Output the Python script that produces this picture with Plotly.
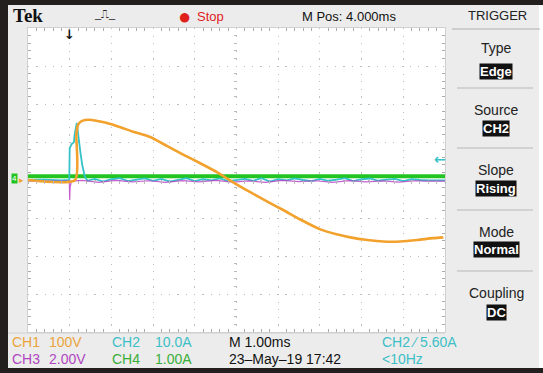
import plotly.graph_objects as go

W, H = 543, 373

# ---------------- data (time in ms, relative to trigger) ----------------
ch1_t = [-1.0, 0.13, 0.16, 0.20, 0.27, 0.37, 0.54, 0.73, 1.00, 1.26, 1.52, 1.93, 2.34, 2.72, 3.13, 3.54, 3.92,
         4.33, 4.74, 5.12, 5.53, 6.01, 6.40, 6.73, 7.14, 7.52, 7.93, 8.34, 8.72, 8.96]
ch1_v = [0, 0, 120, 145, 154, 158, 158, 154, 147, 137, 127, 113, 89, 67, 44, 20, -6,
         -32, -57, -79, -104, -130, -143, -151, -158, -162, -162, -158, -153, -151]   # volts

ch2_t = [-1.0, -0.6, -0.2, -0.01, 0.0, 0.05, 0.10, 0.12, 0.17, 0.19, 0.22, 0.26, 0.30, 0.36, 0.42,
         0.6, 0.8, 1.0, 1.2, 1.4, 1.6, 1.8, 2.0, 2.2, 2.4, 2.6, 2.8, 3.0, 3.2, 3.4, 3.6, 3.8, 4.0,
         4.2, 4.4, 4.6, 4.8, 5.0, 5.2, 5.4, 5.6, 5.8, 6.0, 6.2, 6.4, 6.6, 6.8, 7.0, 7.2, 7.4, 7.6,
         7.8, 8.0, 8.2, 8.4, 8.6, 9.0]
ch2_a = [0.0, 0.1, -0.1, 0.0, 8.4, 9.5, 9.9, 12.0, 15.0, 13.0, 11.0, 7.0, 4.0, 1.0, -0.2,
         0.3, -0.4, 0.2, 0.5, -0.3, 0.1, 0.4, -0.2, 0.3, -0.4, 0.0, 0.5, -0.3, 0.2, -0.1, 0.4,
         -0.3, 0.1, 0.3, -0.2, 0.5, -0.4, 0.2, -0.1, 0.4, 0.0, -0.3, 0.3, -0.2, 0.1, 0.5, -0.3,
         0.2, 0.4, -0.2, 0.1, 0.3, -0.3, 0.2, 0.0, -0.1, -0.1]          # amps

ch3_t = [-1.0, -0.01, 0.0, 0.01, 0.04, 0.3, 0.7, 1.1, 1.5, 1.9, 2.3, 2.7, 3.1, 3.5, 3.9, 4.3, 4.7,
         5.1, 5.5, 5.9, 6.3, 6.7, 7.1, 7.5, 7.9, 8.3, 8.5, 9.0]
ch3_v = [-0.06, -0.06, -1.05, -0.4, -0.06, -0.02, -0.12, -0.02, -0.10, -0.04, -0.12, -0.03, -0.10,
         -0.02, -0.11, -0.05, -0.12, -0.02, -0.09, -0.04, -0.12, -0.03, -0.10, -0.05, -0.11, -0.04,
         -0.06, -0.06]  # volts

ch4_t = [-1.0, 9.0]
ch4_a = [0.1, 0.1]     # amps

scale = {"ch1": 100.0, "ch2": 10.0, "ch3": 2.0, "ch4": 1.0}   # units / division

C_ORANGE = "#f2a22c"
C_CYAN = "#34c2c8"
C_MAG = "#b83cc4"
C_GREEN = "#22c422"
C_TXT_OR = "#eba43c"
C_TXT_CY = "#3cbfc6"
C_TXT_MG = "#b146c2"
C_TXT_GR = "#3aae3a"

fig = go.Figure()
fig.add_trace(go.Scatter(x=ch4_t, y=[a / scale["ch4"] for a in ch4_a], mode="lines",
                         line=dict(color=C_GREEN, width=4)))
fig.add_trace(go.Scatter(x=ch2_t, y=[a / scale["ch2"] for a in ch2_a], mode="lines",
                         line=dict(color=C_CYAN, width=1.8)))
fig.add_trace(go.Scatter(x=ch3_t, y=[v / scale["ch3"] for v in ch3_v], mode="lines",
                         line=dict(color=C_MAG, width=1.2), opacity=0.8))
fig.add_trace(go.Scatter(x=ch1_t, y=[v / scale["ch1"] for v in ch1_v], mode="lines",
                         line=dict(color=C_ORANGE, width=2.6, shape="spline", smoothing=0.6)))
# helper trace for the centre-cross axes
fig.add_trace(go.Scatter(x=[None], y=[None], xaxis="x2", yaxis="y2", showlegend=False))

X0, X1 = 28, 445
Y0, Y1 = 28, 332
px = lambda x: x / W
py = lambda y: 1 - y / H

grid = "#bdbdbd"
fig.update_layout(
    width=W, height=H, margin=dict(l=0, r=0, t=0, b=0),
    paper_bgcolor="#ececec", plot_bgcolor="white", showlegend=False,
    xaxis=dict(domain=[px(X0), px(X1)], range=[-1, 9], showgrid=True, tick0=-1, dtick=1,
               gridcolor=grid, griddash="1.2px,6.4px", gridwidth=1.2, zeroline=False,
               showticklabels=False, ticks="inside", ticklen=0, tickcolor=grid,
               minor=dict(dtick=0.2, tick0=-1, ticks="inside", ticklen=3, tickcolor="#aaaaaa"),
               showline=True, linecolor="#d0d0d0", mirror="ticks", fixedrange=True),
    yaxis=dict(domain=[py(Y1), py(Y0)], range=[-4, 4], showgrid=True, tick0=-4, dtick=1,
               gridcolor=grid, griddash="1.2px,7.1px", gridwidth=1.2, zeroline=False,
               showticklabels=False, ticks="inside", ticklen=0, tickcolor=grid,
               minor=dict(dtick=0.2, tick0=-4, ticks="inside", ticklen=3, tickcolor="#aaaaaa"),
               showline=True, linecolor="#d0d0d0", mirror="ticks", fixedrange=True),
    xaxis2=dict(overlaying="x", range=[-1, 9], anchor="free", position=(py(Y1) + py(Y0)) / 2,
                showgrid=False, zeroline=False, showticklabels=False, ticks="",
                minor=dict(dtick=0.2, tick0=-1, ticks="outside", ticklen=3, tickcolor="#bbbbbb"),
                showline=False),
    yaxis2=dict(overlaying="y", range=[-4, 4], anchor="free", position=(px(X0) + px(X1)) / 2,
                showgrid=False, zeroline=False, showticklabels=False, ticks="",
                minor=dict(dtick=0.2, tick0=-4, ticks="outside", ticklen=3, tickcolor="#bbbbbb"),
                showline=False),
)

shapes = []
def rect(x0, y0, x1, y1, color):
    shapes.append(dict(type="rect", xref="paper", yref="paper", x0=px(x0), x1=px(x1),
                       y0=py(y1), y1=py(y0), fillcolor=color, line=dict(width=0), layer="below"))
def hline(x0, x1, y, color, w=1):
    shapes.append(dict(type="line", xref="paper", yref="paper", x0=px(x0), x1=px(x1),
                       y0=py(y), y1=py(y), line=dict(color=color, width=w)))

rect(0, 0, 543, 5, "#231f1f")       # top frame
rect(0, 0, 8, 373, "#231f1f")       # left frame
rect(0, 368, 543, 373, "#231f1f")   # bottom frame
rect(539, 5, 543, 368, "#ffffff")   # right edge
hline(452, 540, 29, "#b0b0b0")      # under TRIGGER
for yy in (88, 148, 210, 271):
    hline(457, 533, yy, "#b8b8b8")
hline(8, 445, 333, "#d0d0d0")
fig.update_layout(shapes=shapes)

ann = []
SANS = "Liberation Sans, Arial, sans-serif"
def text(t, x, y, size=13, color="black", anchor="left", bg=None, family=SANS, pad=1):
    d = dict(text=t, x=px(x), y=py(y), xref="paper", yref="paper", showarrow=False,
             xanchor=anchor, yanchor="middle", font=dict(size=size, color=color, family=family))
    if bg:
        d.update(bgcolor=bg, borderpad=pad)
    ann.append(d)

# header
text("<b>Tek</b>", 11, 15, 19, "#111111", family="Liberation Serif, serif")
text("_⎍_", 92, 14, 11, "#222")
text("●", 184, 16, 22, "#e0201c", anchor="center")
text("Stop", 195, 16, 13, "#e0201c")
text("M Pos: 4.000ms", 300, 16, 13, "#111")
text("TRIGGER", 497, 15, 13, "#222", anchor="center")

# right menu
menu = [("Type", "Edge", 48, 71), ("Source", "CH2", 110, 128), ("Slope", "Rising", 170, 188),
        ("Mode", "Normal", 232, 249), ("Coupling", "DC", 293, 312)]
for title, val, yt, yv in menu:
    text(title, 496, yt, 14, "#222", anchor="center")
    text("<b>" + val + "</b>", 496, yv, 13, "white", anchor="center", bg="#111111", pad=0)

# bottom status
text("CH1", 10, 342, 14, C_TXT_OR)
text("100V", 47, 342, 14, C_TXT_OR)
text("CH2", 110, 342, 14, C_TXT_CY)
text("10.0A", 153, 342, 14, C_TXT_CY)
text("M 1.00ms", 227, 342, 14, "#111")
text("CH2 ⁄ 5.60A", 380, 342, 14, C_TXT_CY)
text("CH3", 10, 359, 14, C_TXT_MG)
text("2.00V", 47, 359, 14, C_TXT_MG)
text("CH4", 110, 359, 14, C_TXT_GR)
text("1.00A", 153, 359, 14, C_TXT_GR)
text("23–May–19 17:42", 227, 359, 14, "#111")
text("&lt;10Hz", 380, 359, 14, C_TXT_CY)

# trigger position arrow (at t = 0) and trigger level arrow (5.60 A on CH2)
ann.append(dict(text="<b>↓</b>", x=0, y=py(34), xref="x", yref="paper", showarrow=False,
                xanchor="center", yanchor="middle", font=dict(size=13, color="#111", family="DejaVu Sans")))
ann.append(dict(text="<b>←</b>", x=px(440), y=5.6 / scale["ch2"], xref="paper", yref="y", showarrow=False,
                xanchor="center", yanchor="middle", font=dict(size=14, color=C_CYAN, family="DejaVu Sans")))
# ground markers
ann.append(dict(text="4", x=px(14), y=0.05, xref="paper", yref="y", showarrow=False, xanchor="center",
                yanchor="middle", font=dict(size=8, color="white", family=SANS), bgcolor=C_GREEN, borderpad=0))
ann.append(dict(text="▸", x=px(21), y=0.0, xref="paper", yref="y", showarrow=False, xanchor="center",
                yanchor="middle", font=dict(size=9, color=C_ORANGE, family="DejaVu Sans")))
fig.update_layout(annotations=ann)

fig.write_html("out.html")
